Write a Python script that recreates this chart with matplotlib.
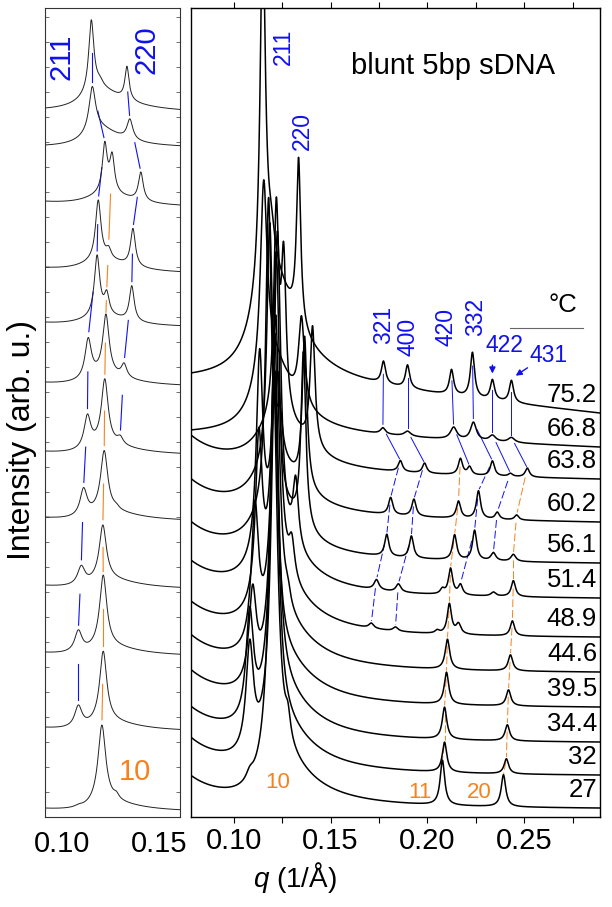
import numpy as np
import matplotlib
matplotlib.use("Agg")
import matplotlib.pyplot as plt
from matplotlib.ticker import FormatStrFormatter, MultipleLocator

plt.rcParams['font.family'] = ['Liberation Sans', 'DejaVu Sans']
plt.rcParams['mathtext.fontset'] = 'custom'
plt.rcParams['mathtext.it'] = 'Liberation Sans:italic'
plt.rcParams['mathtext.rm'] = 'Liberation Sans'

BLUE = '#1010f0'
ORANGE = '#f5821f'

# temperatures, top curve first
temps = ['75.2', '66.8', '63.8', '60.2', '56.1', '51.4', '48.9', '44.6', '39.5', '34.4', '32', '27']

# stacking levels (right panel: level at high q, left panel: level at low q)
offset_r = [404, 370, 338, 295, 254, 219, 180, 145, 110, 75, 42, 9]
offset_l = [709, 672, 616, 550, 495, 435, 366, 300, 232, 165, 90, 9]
scale_l = [5, 4.2, 4.2, 4.0, 5, 5, 5, 5, 5, 5, 5, 5]

# background of each pattern
ramp = [35, 14, 6, 5, 3, 2, 1, 1, 1, 1, 1, 1]
lowq = [0, 0, 35, 35, 35, 33, 33, 35, 35, 33, 35, 30]
hump_h = [110, 80, 50, 50, 50, 50, 50, 50, 50, 50, 50, 50]
hump_q = [0.118, 0.118, 0.123, 0.121, 0.121, 0.121, 0.121, 0.121, 0.121, 0.121, 0.121, 0.121]
hump_wl = [0.009, 0.008, 0.012, 0.012, 0.012, 0.010, 0.008, 0.007, 0.007, 0.007, 0.007, 0.007]
hump_wr = [0.016, 0.014, 0.016, 0.016, 0.016, 0.019, 0.020, 0.020, 0.020, 0.020, 0.020, 0.020]

# Bragg peaks: position (1/A), height, half width
peak_q = [
    [0.1150, 0.1195, 0.1335, 0.1773, 0.1897, 0.2124, 0.2232, 0.2335, 0.2433],
    [0.1155, 0.1350, 0.1770, 0.1897, 0.2135, 0.2237, 0.2335, 0.2433],
    [0.1220, 0.1258, 0.1407, 0.1860, 0.1985, 0.2170, 0.2217, 0.2335, 0.2428, 0.2515],
    [0.1186, 0.1240, 0.1366, 0.1810, 0.1930, 0.2160, 0.2263, 0.2360, 0.2460],
    [0.1180, 0.1230, 0.1360, 0.1790, 0.1917, 0.2140, 0.2243, 0.2340, 0.2443],
    [0.1134, 0.1226, 0.1320, 0.1737, 0.1850, 0.2077, 0.2119, 0.2170, 0.2340, 0.2443],
    [0.1130, 0.1220, 0.1300, 0.1710, 0.1835, 0.2050, 0.2113, 0.2160, 0.2438],
    [0.1110, 0.1217, 0.1280, 0.2103, 0.2428],
    [0.1098, 0.1210, 0.2098, 0.2418],
    [0.1083, 0.1212, 0.2088, 0.2412],
    [0.1083, 0.1212, 0.2088, 0.2407],
    [0.1083, 0.1205, 0.1280, 0.2077, 0.2392],
]
peak_h = [
    [350, 25, 165, 22, 23, 25, 45, 20, 22],
    [180, 85, 6, 5, 12, 18, 6, 5],
    [200, 150, 120, 11, 10, 16, 8, 15, 3, 9],
    [237, 35, 150, 17, 17, 17, 28, 7, 5],
    [300, 100, 175, 22, 22, 25, 30, 8, 7],
    [195, 300, 65, 10, 8, 5, 26, 10, 4, 16],
    [160, 320, 35, 5, 4, 3, 30, 10, 15],
    [135, 295, 12, 30, 16],
    [90, 265, 32, 16],
    [105, 350, 32, 16],
    [105, 345, 30, 15],
    [8, 380, 22, 45, 32],
]
peak_w = [
    [0.0016, 0.0020, 0.0013, 0.0013, 0.0013, 0.0013, 0.0013, 0.0013, 0.0013],
    [0.0020, 0.0018, 0.0015, 0.0020, 0.0020, 0.0018, 0.0020, 0.0020],
    [0.0015, 0.0015, 0.0015, 0.0013, 0.0013, 0.0013, 0.0013, 0.0013, 0.0013, 0.0013],
    [0.0017, 0.0015, 0.0015, 0.0013, 0.0013, 0.0013, 0.0013, 0.0013, 0.0013],
    [0.0017, 0.0015, 0.0015, 0.0013, 0.0013, 0.0013, 0.0013, 0.0015, 0.0015],
    [0.0020, 0.0020, 0.0017, 0.0015, 0.0015, 0.0013, 0.0013, 0.0013, 0.0015, 0.0013],
    [0.0021, 0.0021, 0.0018, 0.0015, 0.0015, 0.0013, 0.0013, 0.0015, 0.0013],
    [0.0022, 0.0022, 0.0016, 0.0014, 0.0014],
    [0.0023, 0.0022, 0.0014, 0.0014],
    [0.0023, 0.0022, 0.0014, 0.0014],
    [0.0023, 0.0022, 0.0014, 0.0014],
    [0.0022, 0.0024, 0.0016, 0.0014, 0.0014],
]

# guide lines following the peaks from curve to curve
guide_r_q = [
    [0.1773, 0.1770, 0.1860, 0.1810, 0.1790, 0.1737, 0.1710],   # 321
    [0.1897, 0.1897, 0.1985, 0.1930, 0.1917, 0.1850, 0.1835],   # 400
    [0.2124, 0.2135, 0.2217],                                   # 420
    [0.2232, 0.2237, 0.2335, 0.2263, 0.2243, 0.2170],           # 332
    [0.2335, 0.2335, 0.2428, 0.2360, 0.2340],                   # 422
    [0.2433, 0.2433, 0.2515],                                   # 431
    [0.2170, 0.2160, 0.2140, 0.2119, 0.2113, 0.2103, 0.2098, 0.2088, 0.2088, 0.2077],  # 11
    [0.2515, 0.2460, 0.2443, 0.2443, 0.2438, 0.2428, 0.2418, 0.2412, 0.2407, 0.2392],  # 20
]
guide_r_start = [0, 0, 0, 0, 0, 0, 2, 2]
guide_r_color = [BLUE, BLUE, BLUE, BLUE, BLUE, BLUE, ORANGE, ORANGE]

guide_l_q = [
    [0.1155, 0.1155, 0.1220, 0.1186, 0.1180, 0.1134, 0.1130, 0.1110, 0.1098, 0.1083, 0.1083],  # 211
    [0.1330, 0.1350, 0.1407, 0.1366, 0.1360, 0.1320, 0.1300],  # 220
    [0.1258, 0.1240, 0.1230, 0.1226, 0.1220, 0.1217, 0.1210, 0.1212, 0.1212, 0.1205],  # 10
]
guide_l_start = [0, 0, 2]
guide_l_color = [BLUE, BLUE, ORANGE]

Q_LO, Q_HI = 0.078, 0.289
QL_LO, QL_HI = 0.091, 0.161


def intensity(i, q):
    q = np.asarray(q, dtype=float)
    y = lowq[i] * (Q_LO / q) ** 4
    w = np.where(q < hump_q[i], hump_wl[i], hump_wr[i])
    y = y + hump_h[i] / (1 + ((q - hump_q[i]) / w) ** 2)
    y = y + ramp[i] * np.clip((Q_HI - q) / (Q_HI - hump_q[i]), 0, 1)
    for q0, h, w0 in zip(peak_q[i], peak_h[i], peak_w[i]):
        y = y + h / (1 + ((q - q0) / w0) ** 2)
    return y


def curve_r(i, q):
    return offset_r[i] + intensity(i, q) - intensity(i, Q_HI)


def curve_l(i, q):
    return offset_l[i] + (intensity(i, q) - intensity(i, QL_LO)) / scale_l[i]


def draw_guides(ax, fams, starts, colors, func, t1, t2, lw, dashed_from):
    for qs, s, c in zip(fams, starts, colors):
        for k in range(len(qs) - 1):
            j = s + k
            x1, x2 = qs[k], qs[k + 1]
            y1, y2 = float(func(j, x1)), float(func(j + 1, x2))
            xa, ya = x1 + t1 * (x2 - x1), y1 + t1 * (y2 - y1)
            xb, yb = x1 + t2 * (x2 - x1), y1 + t2 * (y2 - y1)
            ls = (0, (8, 3)) if j >= dashed_from else '-'
            ax.plot([xa, xb], [ya, yb], color=c, lw=lw, ls=ls, zorder=1)


fig = plt.figure(figsize=(6.12, 9.07), dpi=100)
ax_l = fig.add_axes([45 / 612, 90 / 907, 135 / 612, 809 / 907])
ax_r = fig.add_axes([191 / 612, 90 / 907, 409 / 612, 809 / 907])

# ---- left panel: zoom on the low-q peaks
ql = np.linspace(QL_LO, QL_HI, 1500)
for i in range(len(temps)):
    ax_l.plot(ql, curve_l(i, ql), color='#222222', lw=0.7, zorder=2)
draw_guides(ax_l, guide_l_q, guide_l_start, guide_l_color, curve_l, 0.45, 0.93, 0.8, 99)

ax_l.set_xlim(QL_LO, QL_HI)
ax_l.set_ylim(0, 809)
ax_l.set_xticks([0.10, 0.15])
ax_l.xaxis.set_major_formatter(FormatStrFormatter('%.2f'))
ax_l.yaxis.set_major_locator(MultipleLocator(25))
ax_l.tick_params(axis='x', direction='in', length=0, labelsize=21, pad=9)
ax_l.tick_params(axis='y', direction='in', left=True, right=True, length=3, width=0.6,
                 labelleft=False, color='#555555')
for sp in ax_l.spines.values():
    sp.set_linewidth(0.8)
    sp.set_color('#333333')

ax_l.text(0.0995, 760, '211', color=BLUE, fontsize=21, rotation=90, ha='center', va='center')
ax_l.text(0.1438, 767, '220', color=BLUE, fontsize=21, rotation=90, ha='center', va='center')
ax_l.text(0.1376, 45, '10', color=ORANGE, fontsize=21, ha='center', va='center')

# ---- right panel: full patterns
qr = np.linspace(Q_LO, Q_HI, 4000)
for i, t in enumerate(temps):
    ax_r.plot(qr, curve_r(i, qr), color='black', lw=1.1, zorder=2)
    ax_r.text(0.2875, offset_r[i] + 18, t, fontsize=18.5, ha='right', va='center')
draw_guides(ax_r, guide_r_q, guide_r_start, guide_r_color, curve_r, 0.2, 0.95, 0.7, 2)

ax_r.set_xlim(Q_LO, Q_HI)
ax_r.set_ylim(0, 809)
ax_r.set_yticks([])
ax_r.xaxis.set_major_locator(MultipleLocator(0.05))
ax_r.xaxis.set_minor_locator(MultipleLocator(0.025))
ax_r.xaxis.set_major_formatter(FormatStrFormatter('%.2f'))
ax_r.tick_params(axis='x', which='both', direction='out', top=True, length=4, width=0.8,
                 labelsize=21, pad=3)
for sp in ax_r.spines.values():
    sp.set_linewidth(1.0)

ax_r.text(0.1258, 770, '211', color=BLUE, fontsize=16.5, rotation=90, ha='center', va='center')
ax_r.text(0.1356, 686, '220', color=BLUE, fontsize=16.5, rotation=90, ha='center', va='center')
ax_r.text(0.1773, 492, '321', color=BLUE, fontsize=16.5, rotation=90, ha='center', va='center')
ax_r.text(0.1902, 480, '400', color=BLUE, fontsize=16.5, rotation=90, ha='center', va='center')
ax_r.text(0.2093, 490, '420', color=BLUE, fontsize=16.5, rotation=90, ha='center', va='center')
ax_r.text(0.2247, 500, '332', color=BLUE, fontsize=16.5, rotation=90, ha='center', va='center')
ax_r.text(0.2397, 471, '422', color=BLUE, fontsize=16.5, ha='center', va='center')
ax_r.text(0.2624, 462, '431', color=BLUE, fontsize=16.5, ha='center', va='center')

# arrows pointing at the 422 and 431 reflections of the top curve
q422, q431 = peak_q[0][7], peak_q[0][8]
tip422 = float(curve_r(0, q422)) + 3
tip431 = float(curve_r(0, q431)) + 3
ax_r.annotate('', xy=(q422, tip422), xytext=(q422, tip422 + 14),
              arrowprops=dict(arrowstyle='-|>', color=BLUE, lw=1.0, mutation_scale=9))
ax_r.annotate('', xy=(q431 + 0.001, tip431), xytext=(q431 + 0.0095, tip431 + 11),
              arrowprops=dict(arrowstyle='-|>', color=BLUE, lw=1.0, mutation_scale=9))

ax_r.text(0.1603, 751, 'blunt 5bp sDNA', fontsize=21, ha='left', va='center')
ax_r.text(0.2701, 512, '°C', fontsize=18.5, ha='center', va='center')
ax_r.plot([0.2428, 0.2804], [489, 489], color='#666666', lw=0.8)

ax_r.text(0.1227, 35, '10', color=ORANGE, fontsize=16, ha='center', va='center')
ax_r.text(0.1959, 25, '11', color=ORANGE, fontsize=16, ha='center', va='center')
ax_r.text(0.2268, 25, '20', color=ORANGE, fontsize=16, ha='center', va='center')

fig.text(0.036, 0.515, 'Intensity (arb. u.)', fontsize=23, rotation=90, ha='center', va='center')
fig.text(0.482, 0.033, r'$q$ (1/Å)', fontsize=20, ha='center', va='center')

fig.savefig('out.png', dpi=100)
